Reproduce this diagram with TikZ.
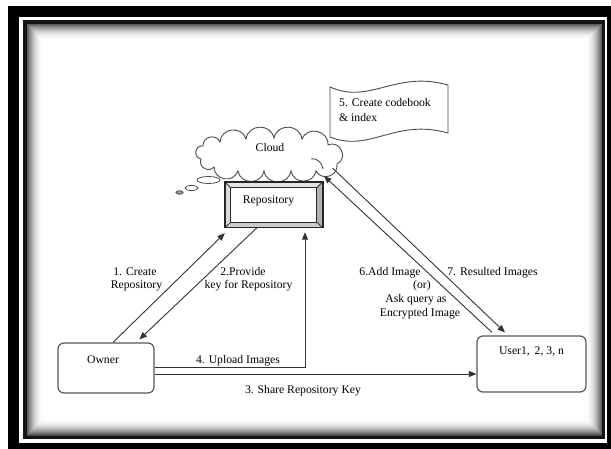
\documentclass[tikz,border=0pt]{standalone}
\usepackage{fontspec}
\setmainfont{Liberation Serif}
\usetikzlibrary{arrows.meta,shapes.geometric,calc}
\begin{document}
\begin{tikzpicture}[x=1pt,y=-1pt,
  lbl/.style={font=\fontsize{11.7}{14}\selectfont, text=black, inner sep=0pt, anchor=base},
  ln/.style={draw=black!80, line width=0.9pt},
  arr/.style={ln, -{Triangle[length=7.5pt,width=6pt]}},
  rbox/.style={draw=black!65, line width=1.2pt, rounded corners=6pt, minimum height=#1, inner sep=0pt},
  bubble/.style={ellipse, draw=black!70, line width=0.8pt, inner sep=0pt},
  puff/.style={bend left=80, looseness=1.4},
  endpuff/.style={bend left=90, looseness=1.6},
]
\useasboundingbox (0,0) rectangle (611,449);
% ---------- frame ----------
\fill[black] (8,6) rectangle (620,460);
\fill[white] (19,17) rectangle (607,443);
\foreach \i in {0,...,16}{
  \pgfmathsetmacro\g{72*(1-\i/17)^2}
  \draw[black!\g, line width=1.3pt] (26.5+\i,24+\i) rectangle (602-\i,435.5-\i);
}
\draw[black!92, line width=3.5pt] (24.75,22) rectangle (603.5,437.25);

% ---------- flag ----------
\draw[ln, draw=black!70] (330,87) .. controls (370,105) and (395,70) .. (448,85)
  -- (448,133) .. controls (395,118) and (370,153) .. (330,137) -- cycle;
\node[lbl, anchor=base west] (flag1) at (339,107) {5. Create codebook};
\node[lbl, anchor=base west] (flag2) at (339,122) {\& index};

% ---------- cloud ----------
\coordinate (cloud) at (269.5,155);
\draw[ln, draw=black!70, line join=miter]
  (337,164) to[puff] (316,171) to[puff] (291,171) to[puff] (264,171)
  to[puff] (238,171) to[puff] (214,167) to[puff] (201,159)
  to[endpuff] (203,146) to[puff] (220,142) to[puff] (246,139) to[puff] (274,138)
  to[puff] (302,139) to[puff] (328,145) to[endpuff] (337,164);
\draw[ln, draw=black!70] (311,159) .. controls (318,158) and (322,163) .. (323,169);
\node[lbl] (cloudtxt) at (270,152) {Cloud};
\node[bubble, minimum width=23pt, minimum height=7pt] (b1) at (208.5,180) {};
\node[bubble, minimum width=13pt, minimum height=5pt] (b2) at (191.5,188) {};
\node[bubble, minimum width=7pt, minimum height=3.5pt, fill=black!40] (b3) at (179.5,192.5) {};

% ---------- repository (bevel) ----------
\node[minimum width=97.5pt, minimum height=45.5pt, inner sep=0pt] (repo) at (273.75,204.75) {};
\coordinate (ri1) at ($(repo.north west)+(6,6)$);
\coordinate (ri2) at ($(repo.north east)+(-6,6)$);
\coordinate (ri3) at ($(repo.south east)+(-6,-5.5)$);
\coordinate (ri4) at ($(repo.south west)+(6,-5.5)$);
\fill[gray!22] (repo.north west) -- (repo.north east) -- (ri2) -- (ri1) -- cycle;
\fill[gray!28] (repo.north west) -- (ri1) -- (ri4) -- (repo.south west) -- cycle;
\fill[gray!60] (repo.north east) -- (repo.south east) -- (ri3) -- (ri2) -- cycle;
\fill[gray!40] (repo.south west) -- (ri4) -- (ri3) -- (repo.south east) -- cycle;
\draw[black!80, line width=0.8pt] (repo.north west) -- (ri1) (repo.north east) -- (ri2)
  (repo.south east) -- (ri3) (repo.south west) -- (ri4);
\draw[black!85, line width=1.1pt] (ri1) rectangle (ri3);
\draw[black!85, line width=1.6pt] (repo.north west) rectangle (repo.south east);
\node[lbl] (repotxt) at (268.5,204) {Repository};

% ---------- owner / user ----------
\node[rbox=50pt, minimum width=96pt] (owner) at (106,368) {};
\node[lbl] (ownertxt) at (103,363) {Owner};
\node[rbox=56pt, minimum width=109pt] (user) at (531.5,364) {};
\node[lbl] (usertxt) at (531.5,355) {User1,\, 2, 3, n};

% ---------- arrows ----------
\draw[arr] ([xshift=7pt]owner.north) -- ([yshift=-5.5pt]repo.south west);
\draw[arr] ([xshift=-16.75pt]repo.south) -- ([xshift=82pt,yshift=3pt]owner.north west);
\draw[arr] ([yshift=1pt]owner.east) -| ($(repo.south)+(31.25,4.5)$);
\draw[arr] ([yshift=-6pt]owner.east) -- ([yshift=-6pt]owner.east -| user.west);
\draw[arr] ([xshift=-39.5pt,yshift=3pt]user.north) -- ($(cloud)+(54.5,21)$);
\draw[arr] ($(cloud)+(63,13)$) -- ([xshift=-26.5pt,yshift=3pt]user.north);

% ---------- labels ----------
\node[lbl] (l1a) at (135,276) {1. Create};
\node[lbl] (l1b) at (136.5,289) {Repository};
\node[lbl] (l2a) at (243,276) {2.Provide};
\node[lbl] (l2b) at (248.5,289) {key for Repository};
\node[lbl] (l4) at (238,363) {4. Upload Images};
\node[lbl] (l3) at (303,393) {3. Share Repository Key};
\node[lbl] (l6a) at (390,276) {6.Add Image};
\node[lbl] (l6b) at (422,289) {(or)};
\node[lbl] (l6c) at (416,303) {Ask query as};
\node[lbl] (l6d) at (420,317) {Encrypted Image};
\node[lbl] (l7) at (492.5,276) {7. Resulted Images};
\end{tikzpicture}
\end{document}
